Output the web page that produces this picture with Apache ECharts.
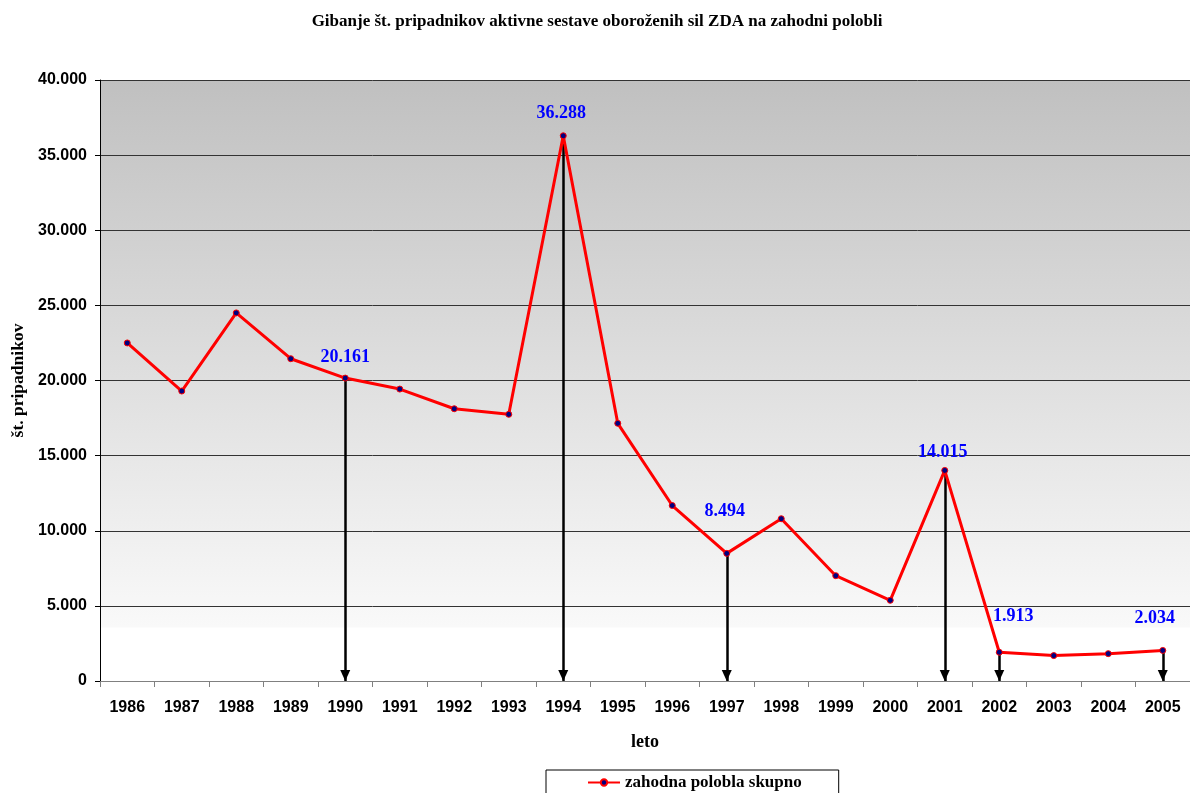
<!DOCTYPE html>
<html>
<head>
<meta charset="utf-8">
<script src="https://cdn.jsdelivr.net/npm/echarts@6/dist/echarts.min.js"></script>
<style>
  html, body { margin: 0; padding: 0; background: #fff; }
  #chart { width: 1190px; height: 793px; }
</style>
</head>
<body>
<div id="chart"></div>
<script>
// Years on the category axis
const years = ['1986','1987','1988','1989','1990','1991','1992','1993','1994','1995',
               '1996','1997','1998','1999','2000','2001','2002','2003','2004','2005'];
// Active-duty personnel, western hemisphere total
const personnel = [22500, 19300, 24500, 21450, 20161, 19430, 18120, 17750, 36288, 17150,
                   11680, 8494, 10800, 7010, 5370, 14015, 1913, 1690, 1820, 2034];
// Years whose value is written out and marked with a drop arrow
const highlightedYears = ['1990', '1994', '1997', '2001', '2002', '2005'];
// Value-axis ticks
const yTicks = [0, 5000, 10000, 15000, 20000, 25000, 30000, 35000, 40000];

const seriesName = 'zahodna polobla skupno';

function fmt(v) {
  return String(v).replace(/\B(?=(\d{3})+(?!\d))/g, '.');
}

// per-label nudges [dx, dy]
const labelNudge = {
  '1990': [0, -3], '1994': [-2, -5], '1997': [-2, -25],
  '2001': [-2, -1], '2002': [14, -18], '2005': [-8, -15]
};

const seriesData = personnel.map((v, i) => {
  const yr = years[i];
  if (highlightedYears.indexOf(yr) < 0) return v;
  return {
    value: v,
    label: {
      show: true,
      position: 'top',
      offset: labelNudge[yr],
      formatter: p => fmt(p.value),
      color: '#0000ff',
      fontFamily: 'Liberation Serif',
      fontWeight: 'bold',
      fontSize: 18
    }
  };
});

const arrowLines = highlightedYears.map(yr => {
  const v = personnel[years.indexOf(yr)];
  return [{ coord: [yr, v] }, { coord: [yr, 0] }];
});

const chart = echarts.init(document.getElementById('chart'), null, { renderer: 'canvas' });
chart.setOption({
  animation: false,
  backgroundColor: '#ffffff',
  title: {
    text: 'Gibanje št. pripadnikov aktivne sestave oboroženih sil ZDA na zahodni polobli',
    left: 597, top: 13, textAlign: 'center', padding: 0,
    textStyle: { fontFamily: 'Liberation Serif', fontWeight: 'bold', fontSize: 17, color: '#000' }
  },
  grid: {
    left: 100, right: 0, top: 80, bottom: 112,
    outerBoundsMode: 'none',
    containLabel: false,
    show: true, borderWidth: 0,
    backgroundColor: {
      type: 'linear', x: 0, y: 0, x2: 0, y2: 1,
      colorStops: [
        { offset: 0, color: '#c0c0c0' },
        { offset: 0.91, color: '#f9f9f9' },
        { offset: 0.912, color: '#ffffff' },
        { offset: 1, color: '#ffffff' }
      ]
    }
  },
  legend: {
    left: 546, top: 770,
    padding: [4, 37, 20, 41],
    borderColor: '#000', borderWidth: 1,
    itemWidth: 32, itemHeight: 8, itemGap: 4,
    data: [seriesName],
    textStyle: { fontFamily: 'Liberation Serif', fontWeight: 'bold', fontSize: 17, color: '#000' }
  },
  xAxis: {
    type: 'category',
    data: years,
    boundaryGap: true,
    name: 'leto',
    nameLocation: 'middle',
    nameGap: 52,
    nameTextStyle: { fontFamily: 'Liberation Serif', fontWeight: 'bold', fontSize: 18, color: '#000' },
    axisLine: { lineStyle: { color: '#808080', width: 1 } },
    axisTick: { show: true, length: 6, alignWithLabel: false, lineStyle: { color: '#808080' } },
    axisLabel: { margin: 19, fontFamily: 'Liberation Sans', fontWeight: 'bold', fontSize: 16, color: '#000', interval: 0 },
    splitLine: { show: false }
  },
  yAxis: {
    type: 'value',
    min: yTicks[0], max: yTicks[yTicks.length - 1], interval: yTicks[1] - yTicks[0],
    name: 'št. pripadnikov',
    nameLocation: 'middle',
    nameGap: 72,
    nameRotate: 90,
    nameTextStyle: { fontFamily: 'Liberation Serif', fontWeight: 'bold', fontSize: 17.5, color: '#000' },
    axisLine: { show: true, lineStyle: { color: '#000', width: 1 } },
    axisTick: { show: true, length: 5, lineStyle: { color: '#000' } },
    axisLabel: { margin: 13, fontFamily: 'Liberation Sans', fontWeight: 'bold', fontSize: 16, color: '#000',
                 formatter: v => fmt(v) },
    splitLine: { show: true, lineStyle: { color: '#333333', width: 1 } }
  },
  series: [{
    name: seriesName,
    type: 'line',
    data: seriesData,
    symbol: 'circle',
    symbolSize: 6,
    itemStyle: { color: '#000080', borderColor: '#ff0000', borderWidth: 1 },
    lineStyle: { color: '#ff0000', width: 3 },
    emphasis: { disabled: true },
    z: 3,
    markLine: {
      silent: true,
      symbol: ['none', 'triangle'],
      symbolSize: [10, 11],
      symbolOffset: [[0, 0], [0, 5.5]],
      label: { show: false },
      lineStyle: { color: '#000', width: 2.5, type: 'solid' },
      data: arrowLines,
      z: 2
    }
  }]
});
</script>
</body>
</html>
